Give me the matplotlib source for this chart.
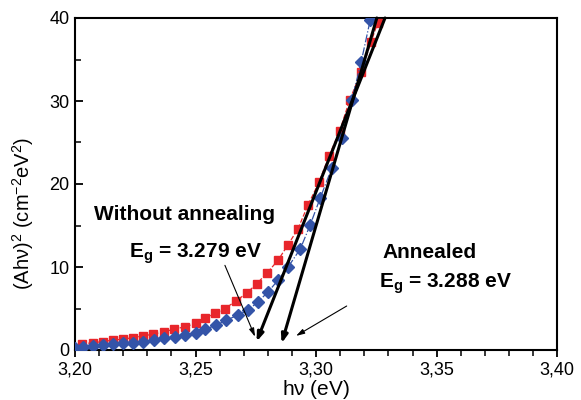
import matplotlib
matplotlib.use('Agg')
import matplotlib.pyplot as plt
from matplotlib.ticker import MultipleLocator, FixedLocator, FixedFormatter

plt.rcParams['font.family'] = ['Liberation Sans', 'DejaVu Sans']
plt.rcParams['mathtext.fontset'] = 'custom'
plt.rcParams['mathtext.rm'] = 'Liberation Sans'
plt.rcParams['mathtext.it'] = 'Liberation Sans'
plt.rcParams['mathtext.bf'] = 'Liberation Sans:bold'
plt.rcParams['mathtext.default'] = 'regular'

# without annealing (red squares)
e_red = [3.2028, 3.2075, 3.2116, 3.2158, 3.2199, 3.2241, 3.2282, 3.2324, 3.2369, 3.2411,
         3.2456, 3.2502, 3.2539, 3.2581, 3.2622, 3.2668, 3.2714, 3.2755, 3.2797, 3.2842,
         3.2884, 3.2925, 3.2967, 3.3012, 3.3054, 3.3098, 3.3139, 3.3187, 3.3228, 3.3255]
a_red = [0.7, 0.9, 1.0, 1.2, 1.3, 1.5, 1.7, 1.9, 2.2, 2.5,
         2.8, 3.2, 3.8, 4.4, 5.0, 5.9, 6.9, 8.0, 9.3, 10.8,
         12.7, 14.6, 17.5, 20.2, 23.4, 26.4, 30.1, 33.5, 37.1, 39.4]

# annealed (blue diamonds)
e_blue = [3.2000, 3.2033, 3.2075, 3.2116, 3.2158, 3.2199, 3.2241, 3.2282, 3.2328, 3.2369,
          3.2415, 3.2456, 3.2502, 3.2539, 3.2587, 3.2628, 3.2676, 3.2718, 3.2759, 3.2801,
          3.2842, 3.2884, 3.2935, 3.2976, 3.3017, 3.3065, 3.3107, 3.3148, 3.3187, 3.3225]
a_blue = [0.3, 0.4, 0.5, 0.6, 0.7, 0.8, 0.9, 1.0, 1.2, 1.4,
          1.6, 1.8, 2.0, 2.5, 3.0, 3.6, 4.2, 4.8, 5.8, 7.0,
          8.4, 10.0, 12.2, 15.1, 18.3, 21.9, 25.5, 30.1, 34.7, 39.8]

# linear fits drawn as arrows (top point, bottom point)
fit_red = [(3.3286, 40.0), (3.2753, 1.0)]
fit_blue = [(3.3252, 40.0), (3.2857, 0.8)]

xticks = [3.20, 3.25, 3.30, 3.35, 3.40]
xtick_labels = ['3,20', '3,25', '3,30', '3,35', '3,40']
yticks = [0, 10, 20, 30, 40]

fig = plt.figure(figsize=(5.81, 4.0), dpi=100)
ax = fig.add_axes([0.129, 0.125, 0.83, 0.83])

ax.plot(e_red, a_red, ls='--', lw=0.9, color='#e8262b', marker='s', ms=6.2,
        mec='#e8262b', mfc='#e8262b', zorder=3)
ax.plot(e_blue, a_blue, ls='-.', lw=0.9, color='#3454a8', marker='D', ms=6.0,
        mec='#3454a8', mfc='#3454a8', zorder=3)

for fit in (fit_red, fit_blue):
    ax.annotate('', xy=fit[1], xytext=fit[0],
                arrowprops=dict(arrowstyle='-|>,head_length=0.5,head_width=0.18',
                                color='black', lw=2.2, shrinkA=0, shrinkB=0),
                zorder=4, annotation_clip=False)

ax.annotate('', xy=(3.2747, 1.6), xytext=(3.2622, 10.2),
            arrowprops=dict(arrowstyle='-|>,head_length=0.5,head_width=0.15',
                            color='black', lw=0.8, shrinkA=0, shrinkB=0))
ax.annotate('', xy=(3.2917, 1.7), xytext=(3.3127, 5.3),
            arrowprops=dict(arrowstyle='-|>,head_length=0.5,head_width=0.15',
                            color='black', lw=0.8, shrinkA=0, shrinkB=0))

ax.text(3.2456, 16.3, 'Without annealing', ha='center', va='center',
        fontsize=15, fontweight='bold')
ax.text(3.2500, 11.6, r'$\mathbf{E_g}$ = 3.279 eV', ha='center', va='center',
        fontsize=15, fontweight='bold')
ax.text(3.3469, 11.8, 'Annealed', ha='center', va='center',
        fontsize=15, fontweight='bold')
ax.text(3.3535, 8.0, r'$\mathbf{E_g}$ = 3.288 eV', ha='center', va='center',
        fontsize=15, fontweight='bold')

ax.set_xlim(3.20, 3.40)
ax.set_ylim(0, 40)
ax.xaxis.set_major_locator(FixedLocator(xticks))
ax.xaxis.set_major_formatter(FixedFormatter(xtick_labels))
ax.xaxis.set_minor_locator(MultipleLocator(0.01))
ax.set_yticks(yticks)
ax.yaxis.set_minor_locator(MultipleLocator(5))

ax.tick_params(axis='x', which='major', direction='out', length=5, width=1.3, labelsize=13, pad=3)
ax.tick_params(axis='x', which='minor', direction='out', length=4, width=1.1)
ax.tick_params(axis='y', which='major', direction='in', length=6, width=1.3, labelsize=13, pad=4)
ax.tick_params(axis='y', which='minor', direction='in', length=4, width=1.1)

for sp in ax.spines.values():
    sp.set_linewidth(1.5)

ax.set_xlabel(r'h$\nu$ (eV)', fontsize=15, labelpad=0)
ax.set_ylabel(r'(Ah$\nu$)$^2$ (cm$^{-2}$eV$^2$)', fontsize=14.5)
ax.yaxis.set_label_coords(-0.08, 0.41)

fig.savefig('out.png', dpi=100)
